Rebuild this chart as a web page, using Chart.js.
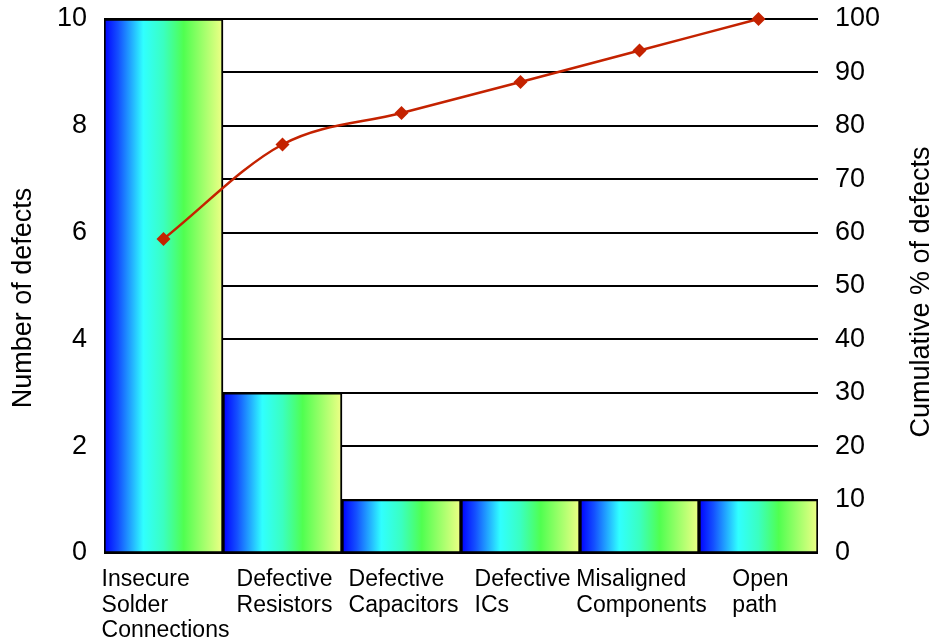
<!DOCTYPE html>
<html>
<head>
<meta charset="utf-8">
<title>Defect Pareto</title>
<script src="https://cdn.jsdelivr.net/npm/chart.js@4/dist/chart.umd.min.js"></script>
<style>
  html, body { margin: 0; padding: 0; background: #ffffff; }
  #wrap { width: 940px; height: 641px; }
</style>
</head>
<body>
<div id="wrap"><canvas id="pareto" width="940" height="641"></canvas></div>
<script>
// Defect categories (each entry is the wrapped label, one string per line)
const categories = [
  ["Insecure", "Solder", "Connections"],
  ["Defective", "Resistors"],
  ["Defective", "Capacitors"],
  ["Defective", "ICs"],
  ["Misaligned", "Components"],
  ["Open", "path"]
];
// Number of defects per category
const defectCounts = [10, 3, 1, 1, 1, 1];
// Running cumulative share of all defects, in percent
const cumulativePercent = [58.8, 76.5, 82.4, 88.2, 94.1, 100];
// Tick values for the two value axes
const countTicks = [0, 2, 4, 6, 8, 10];
const percentTicks = [0, 10, 20, 30, 40, 50, 60, 70, 80, 90, 100];

const FONT = '"Liberation Sans", Arial, Helvetica, sans-serif';

// Horizontal blue → cyan → green → pale yellow fill spanning one category slot
function barGradient(context) {
  const chart = context.chart;
  const xs = chart.scales.x;
  if (!chart.chartArea || !xs) return '#30ffff';
  const slot = xs.width / categories.length;
  const cx = xs.getPixelForValue(context.dataIndex);
  const g = chart.ctx.createLinearGradient(cx - slot / 2, 0, cx + slot / 2, 0);
  g.addColorStop(0.00, '#0000ff');
  g.addColorStop(0.12, '#1450ff');
  g.addColorStop(0.33, '#30ffff');
  g.addColorStop(0.50, '#3affc0');
  g.addColorStop(0.67, '#50ff50');
  g.addColorStop(1.00, '#f0ff86');
  return g;
}

// Category labels (left-aligned block centred on the slot) and axis titles
const paretoText = {
  id: 'paretoText',
  afterDraw(chart) {
    const ctx = chart.ctx;
    const xs = chart.scales.x;
    const area = chart.chartArea;
    ctx.save();
    ctx.fillStyle = '#000000';
    ctx.font = '23px ' + FONT;
    ctx.textAlign = 'left';
    ctx.textBaseline = 'alphabetic';
    categories.forEach((lines, i) => {
      const cx = xs.getPixelForValue(i);
      const w = Math.max(...lines.map(l => ctx.measureText(l).width));
      lines.forEach((line, j) => {
        ctx.fillText(line, cx - w / 2 + 2, xs.top + 33 + j * 25.5);
      });
    });

    const midY = (area.top + area.bottom) / 2;
    ctx.font = '27px ' + FONT;
    ctx.textAlign = 'center';
    ctx.textBaseline = 'middle';

    ctx.save();
    ctx.translate(24, midY + 12);
    ctx.rotate(-Math.PI / 2);
    ctx.fillText('Number of defects', 0, 0);
    ctx.restore();

    ctx.save();
    ctx.translate(922, midY + 6);
    ctx.rotate(-Math.PI / 2);
    ctx.fillText('Cumulative % of defects', 0, 0);
    ctx.restore();

    ctx.restore();
  }
};

// Value axes keep a fixed width and no extra label overhang at top/bottom
function fixVerticalAxis(width) {
  return function (scale) {
    scale.width = width;
    scale.paddingTop = 0;
    scale.paddingBottom = 0;
  };
}

new Chart(document.getElementById('pareto'), {
  data: {
    labels: categories,
    datasets: [
      {
        type: 'line',
        label: 'Cumulative %',
        data: cumulativePercent,
        yAxisID: 'y1',
        order: 0,
        borderColor: '#c42200',
        borderWidth: 2.5,
        cubicInterpolationMode: 'monotone',
        pointStyle: 'rectRot',
        pointRadius: 7,
        pointBackgroundColor: '#c42200',
        pointBorderColor: '#c42200',
        pointBorderWidth: 0,
        clip: false
      },
      {
        type: 'bar',
        label: 'Number of defects',
        data: defectCounts,
        yAxisID: 'y',
        order: 1,
        backgroundColor: barGradient,
        borderColor: '#000000',
        borderWidth: 2,
        borderSkipped: false,
        barPercentage: 1.0,
        categoryPercentage: 1.0
      }
    ]
  },
  options: {
    responsive: false,
    animation: false,
    devicePixelRatio: 1,
    layout: { padding: { top: 19, left: 0, right: 0, bottom: 0 } },
    plugins: {
      legend: { display: false },
      tooltip: { enabled: false }
    },
    scales: {
      x: {
        type: 'category',
        offset: true,
        grid: { display: false, drawTicks: false },
        border: { display: false },
        ticks: { display: false },
        afterFit(scale) {
          scale.height = 88;
          scale.paddingLeft = 0;
          scale.paddingRight = 0;
        }
      },
      y: {
        position: 'left',
        min: 0,
        max: 10,
        grid: { display: false, drawTicks: false },
        border: { display: false },
        ticks: {
          color: '#000000',
          padding: 17,
          font: { family: FONT, size: 27 }
        },
        afterBuildTicks(scale) { scale.ticks = countTicks.map(v => ({ value: v })); },
        afterFit: fixVerticalAxis(104)
      },
      y1: {
        position: 'right',
        min: 0,
        max: 100,
        grid: { display: true, color: '#000000', lineWidth: 2, drawTicks: false },
        border: { display: false },
        ticks: {
          color: '#000000',
          padding: 17,
          font: { family: FONT, size: 27 }
        },
        afterBuildTicks(scale) { scale.ticks = percentTicks.map(v => ({ value: v })); },
        afterFit: fixVerticalAxis(122)
      }
    }
  },
  plugins: [paretoText]
});
</script>
</body>
</html>
